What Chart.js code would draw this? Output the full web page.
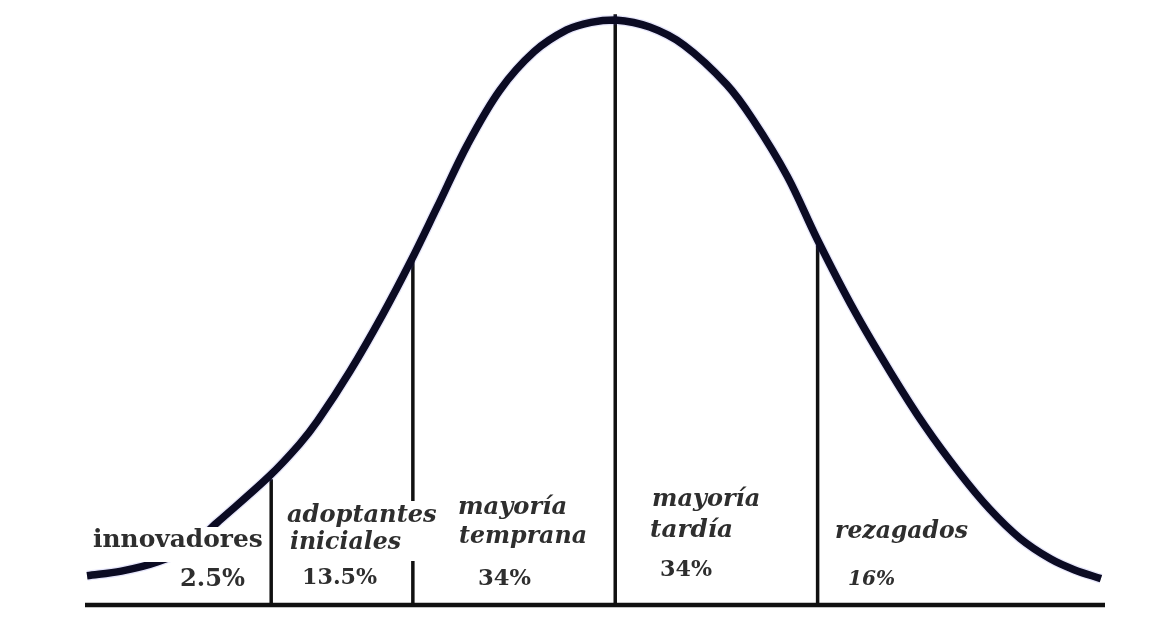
<!DOCTYPE html>
<html>
<head>
<meta charset="utf-8">
<script src="https://cdn.jsdelivr.net/npm/chart.js@4"></script>
<style>
  html, body { margin: 0; padding: 0; background: #fff; }
  #wrap { width: 1171px; height: 639px; }
</style>
</head>
<body>
<div id="wrap"><canvas id="curva" width="1171" height="639"></canvas></div>
<script>
// ── Data (x in standard deviations from the mean, y in % of the peak height) ──
const segments = ['innovadores', 'adoptantes iniciales', 'mayoría temprana', 'mayoría tardía', 'rezagados'];
const shares = ['2.5%', '13.5%', '34%', '34%', '16%'];

const curveX = [-2.61, -2.44, -2.26, -2.10, -1.97, -1.71, -1.56, -1.47, -1.31, -1.15, -1.01,
  -0.88, -0.73, -0.57, -0.40, -0.24, -0.12, 0, 0.17, 0.34, 0.55, 0.68, 0.85, 1.00, 1.18, 1.36,
  1.53, 1.70, 1.85, 2.00, 2.15, 2.27, 2.40];
const curveY = [5.0, 5.8, 7.4, 10.0, 14.0, 22.0, 27.5, 31.5, 40.0, 49.6, 58.8,
  68.0, 78.7, 88.0, 94.6, 98.3, 99.6, 100, 98.8, 95.7, 89.0, 83.0, 73.3, 62.4, 50.4, 39.8,
  30.6, 22.6, 16.4, 11.4, 7.9, 6.0, 4.5];

const dividerX = [-1.70, -1.00, 0, 1.00];
const dividerTop = [21.5, 59.6, 101, 61.5];

const axisRange = [-2.62, 2.42];

// ── Label layout (pixels): which text, left edge, middle line, target width, italic ──
const labelLayout = [
  { text: segments[0], x: 93, y: 541, w: 170, italic: false },
  { text: shares[0], x: 180, y: 580, w: 65, italic: false },
  { text: segments[1].split(' ')[0], x: 287, y: 516, w: 150, italic: true },
  { text: segments[1].split(' ')[1], x: 290, y: 543, w: 111, italic: true },
  { text: shares[1], x: 302, y: 578, w: 75, italic: false },
  { text: segments[2].split(' ')[0], x: 458, y: 508, w: 109, italic: true },
  { text: segments[2].split(' ')[1], x: 459, y: 537, w: 128, italic: true },
  { text: shares[2], x: 478, y: 579, w: 53, italic: false },
  { text: segments[3].split(' ')[0], x: 652, y: 500, w: 108, italic: true },
  { text: segments[3].split(' ')[1], x: 650, y: 531, w: 83, italic: true },
  { text: shares[3], x: 660, y: 570, w: 52, italic: false },
  { text: segments[4], x: 835, y: 532, w: 133, italic: true },
  { text: shares[4], x: 848, y: 580, w: 47, italic: true }
];
// white boxes behind the labels that cut the curve / divider
const labelBoxes = [
  [89, 527, 177, 35],
  [283, 501, 158, 60]
];

const labelPlugin = {
  id: 'labels',
  afterDatasetsDraw(chart) {
    const ctx = chart.ctx;
    ctx.save();
    ctx.fillStyle = '#fff';
    labelBoxes.forEach(b => ctx.fillRect(b[0], b[1], b[2], b[3]));

    ctx.fillStyle = '#2e2e2e';
    ctx.textBaseline = 'middle';
    ctx.textAlign = 'left';
    labelLayout.forEach(l => {
      const style = (l.italic ? 'italic ' : '') + 'bold ';
      ctx.font = style + '20px "DejaVu Serif", serif';
      const m = ctx.measureText(l.text).width;
      const size = 20 * l.w / m;
      ctx.font = style + size.toFixed(1) + 'px "DejaVu Serif", serif';
      ctx.fillText(l.text, l.x, l.y);
    });
    ctx.restore();
  }
};

const lineBase = { pointRadius: 0, fill: false, clip: false };
const curvePoints = () => curveX.map((x, i) => ({ x, y: curveY[i] }));

const datasets = [
  {
    ...lineBase,
    data: curvePoints(),
    borderColor: 'rgba(70,70,220,0.14)',
    borderWidth: 10,
    tension: 0.35
  },
  {
    ...lineBase,
    data: curvePoints(),
    borderColor: '#020205',
    borderWidth: 7.5,
    tension: 0.35
  },
  ...dividerX.map((x, i) => ({
    ...lineBase,
    data: [{ x, y: 0 }, { x, y: dividerTop[i] }],
    borderColor: '#111',
    borderWidth: 3.5
  })),
  {
    ...lineBase,
    data: [{ x: axisRange[0], y: 0 }, { x: axisRange[1], y: 0 }],
    borderColor: '#111',
    borderWidth: 4.5
  }
];

new Chart(document.getElementById('curva').getContext('2d'), {
  type: 'line',
  data: { datasets },
  options: {
    responsive: false,
    animation: false,
    layout: { padding: { left: 85, right: 66, top: 20, bottom: 34 } },
    plugins: { legend: { display: false }, tooltip: { enabled: false } },
    scales: {
      x: { type: 'linear', min: axisRange[0], max: axisRange[1], display: false },
      y: { type: 'linear', min: 0, max: 100, display: false }
    }
  },
  plugins: [labelPlugin]
});
</script>
</body>
</html>
